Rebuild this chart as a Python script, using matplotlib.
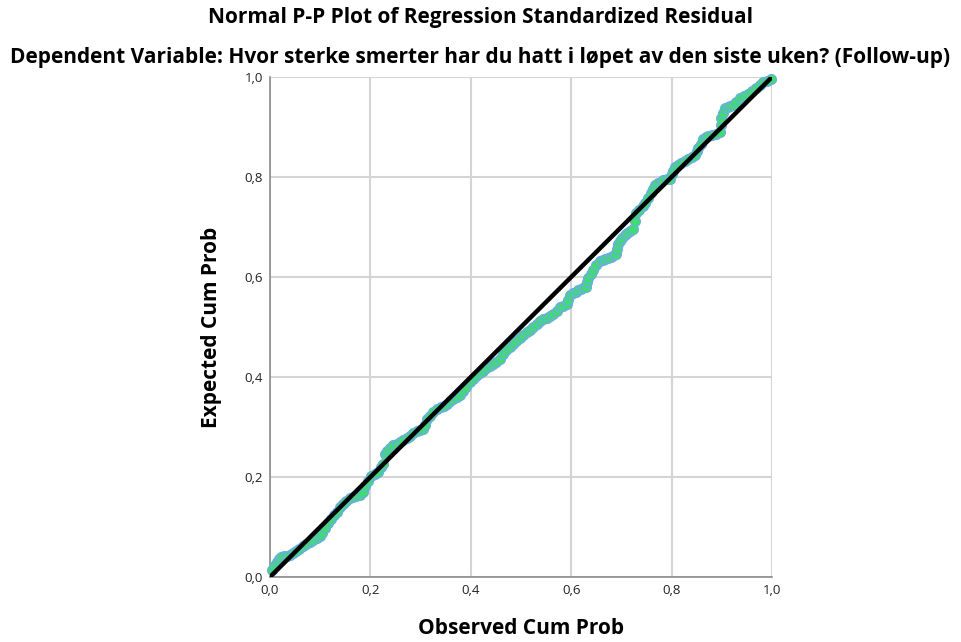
import matplotlib
matplotlib.use("Agg")
import matplotlib.pyplot as plt
from matplotlib.ticker import FuncFormatter

plt.rcParams['font.family'] = ['Open Sans', 'DejaVu Sans']

title = "Normal P-P Plot of Regression Standardized Residual"
subtitle = "Dependent Variable: Hvor sterke smerter har du hatt i løpet av den siste uken? (Follow-up)"
x_label = "Observed Cum Prob"
y_label = "Expected Cum Prob"
tick_values = [0.0, 0.2, 0.4, 0.6, 0.8, 1.0]

observed = [0.003, 0.008, 0.013, 0.018, 0.022, 0.027, 0.033, 0.040, 0.046, 0.052, 0.058,
            0.066, 0.072, 0.079, 0.086, 0.093, 0.100, 0.104, 0.110, 0.116, 0.121, 0.127,
            0.133, 0.139, 0.146, 0.152, 0.159, 0.166, 0.172, 0.179, 0.185, 0.190, 0.196,
            0.202, 0.209, 0.216, 0.221, 0.226, 0.229, 0.234, 0.240, 0.245, 0.252, 0.258,
            0.265, 0.272, 0.279, 0.285, 0.292, 0.299, 0.305, 0.309, 0.312, 0.318, 0.325,
            0.332, 0.340, 0.346, 0.352, 0.358, 0.365, 0.372, 0.378, 0.385, 0.391, 0.398,
            0.405, 0.411, 0.418, 0.425, 0.431, 0.438, 0.445, 0.451, 0.458, 0.464, 0.471,
            0.478, 0.484, 0.491, 0.498, 0.504, 0.511, 0.518, 0.524, 0.531, 0.537, 0.544,
            0.551, 0.557, 0.564, 0.571, 0.577, 0.584, 0.591, 0.594, 0.597, 0.603, 0.609,
            0.614, 0.620, 0.626, 0.630, 0.632, 0.634, 0.639, 0.644, 0.650, 0.657, 0.663,
            0.668, 0.674, 0.680, 0.686, 0.690, 0.692, 0.693, 0.698, 0.702, 0.707, 0.712,
            0.718, 0.723, 0.727, 0.730, 0.736, 0.743, 0.748, 0.753, 0.758, 0.762, 0.766,
            0.772, 0.778, 0.783, 0.790, 0.796, 0.800, 0.803, 0.806, 0.812, 0.819, 0.826,
            0.833, 0.840, 0.846, 0.850, 0.853, 0.858, 0.863, 0.868, 0.873, 0.880, 0.888,
            0.896, 0.898, 0.899, 0.902, 0.906, 0.912, 0.917, 0.922, 0.929, 0.936, 0.944,
            0.952, 0.960, 0.969, 0.976, 0.982, 0.990, 0.999]
expected = [0.014, 0.022, 0.030, 0.037, 0.040, 0.042, 0.043, 0.044, 0.048, 0.052, 0.056,
            0.062, 0.066, 0.071, 0.075, 0.079, 0.083, 0.089, 0.098, 0.108, 0.117, 0.124,
            0.130, 0.141, 0.146, 0.152, 0.158, 0.161, 0.163, 0.165, 0.170, 0.182, 0.192,
            0.203, 0.207, 0.210, 0.220, 0.227, 0.247, 0.253, 0.258, 0.265, 0.267, 0.270,
            0.275, 0.279, 0.283, 0.289, 0.292, 0.294, 0.296, 0.305, 0.316, 0.322, 0.330,
            0.337, 0.340, 0.343, 0.347, 0.352, 0.356, 0.360, 0.364, 0.372, 0.381, 0.390,
            0.397, 0.402, 0.408, 0.413, 0.419, 0.423, 0.427, 0.430, 0.437, 0.447, 0.454,
            0.460, 0.467, 0.473, 0.479, 0.485, 0.490, 0.495, 0.501, 0.507, 0.512, 0.516,
            0.519, 0.522, 0.527, 0.533, 0.540, 0.543, 0.546, 0.555, 0.564, 0.568, 0.571,
            0.574, 0.577, 0.580, 0.581, 0.590, 0.598, 0.607, 0.615, 0.624, 0.632, 0.635,
            0.637, 0.639, 0.641, 0.644, 0.646, 0.656, 0.667, 0.673, 0.679, 0.684, 0.689,
            0.693, 0.696, 0.712, 0.729, 0.735, 0.742, 0.748, 0.759, 0.768, 0.776, 0.784,
            0.788, 0.791, 0.794, 0.796, 0.797, 0.806, 0.813, 0.821, 0.825, 0.828, 0.832,
            0.836, 0.840, 0.845, 0.852, 0.859, 0.866, 0.876, 0.880, 0.883, 0.885, 0.887,
            0.890, 0.904, 0.918, 0.928, 0.938, 0.941, 0.943, 0.945, 0.951, 0.959, 0.962,
            0.966, 0.972, 0.979, 0.984, 0.990, 0.993, 0.997]

fig = plt.figure(figsize=(9.61, 6.42), dpi=100)
ax = fig.add_axes([270/961, 1 - 577/642, 502/961, 500/642])

ax.scatter(observed, expected, s=50, facecolor='#40dc6c', edgecolor='#6aaee6',
           linewidths=0.9, zorder=3, clip_on=False)
ax.plot([0, 1], [0, 1], color='black', linewidth=3.2, zorder=4, solid_capstyle='butt')

ax.set_xlim(0, 1)
ax.set_ylim(0, 1)
ax.set_xticks(tick_values)
ax.set_yticks(tick_values)
fmt = FuncFormatter(lambda v, p: f"{v:.1f}".replace('.', ','))
ax.xaxis.set_major_formatter(fmt)
ax.yaxis.set_major_formatter(fmt)
ax.tick_params(axis='both', length=0, labelsize=9.5, colors='#222222', pad=5)
ax.grid(True, color='#d4d4d4', linewidth=1.5, zorder=0)
ax.set_axisbelow(True)
for side in ['top', 'right']:
    ax.spines[side].set_visible(False)
for side in ['left', 'bottom']:
    ax.spines[side].set_color('#8c8c8c')
    ax.spines[side].set_linewidth(1.2)

ax.set_xlabel(x_label, fontsize=15, fontweight='bold')
ax.set_ylabel(y_label, fontsize=15, fontweight='bold')
ax.xaxis.set_label_coords(0.5, (577 - 628) / 500, transform=ax.transAxes)
ax.yaxis.set_label_coords((212 - 270) / 502, 0.5, transform=ax.transAxes)
ax.xaxis.label.set_va('center')
ax.yaxis.label.set_va('center')

fig.text(0.5, 1 - 18/642, title, ha='center', va='center', fontsize=15, fontweight='bold')
fig.text(0.5, 1 - 58/642, subtitle, ha='center', va='center', fontsize=15, fontweight='bold')

fig.savefig('out.png', dpi=100)
